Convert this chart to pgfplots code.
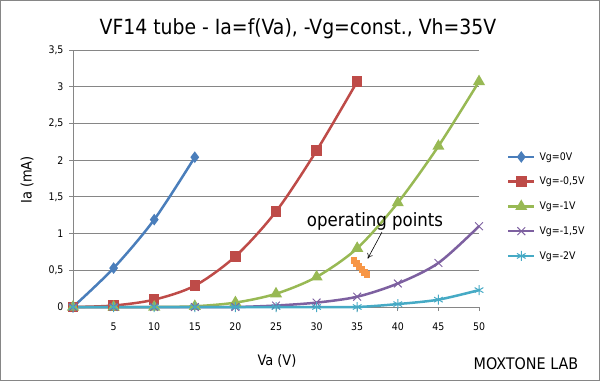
\documentclass[border=0pt]{standalone}
\usepackage{fontspec}
\setmainfont{DejaVu Sans Condensed}
\usepackage{pgfplots}
\pgfplotsset{compat=1.18}
\usetikzlibrary{arrows.meta}
\definecolor{c1}{HTML}{4A7EBB}
\definecolor{c2}{HTML}{BE4B48}
\definecolor{c3}{HTML}{98B954}
\definecolor{c4}{HTML}{7D60A0}
\definecolor{c5}{HTML}{46AAC5}
\definecolor{c6}{HTML}{F79646}
\definecolor{gridc}{HTML}{868686}
\begin{document}
\begin{tikzpicture}[x=1bp,y=1bp]
\useasboundingbox (0,0) rectangle (600,381);
\draw[gridc, line width=1bp] (0.5,0.5) rectangle (599.5,380.5);
\begin{axis}[
  at={(73bp,74bp)}, anchor=south west,
  scale only axis, width=406bp, height=257bp,
  xmin=0, xmax=50, ymin=0, ymax=3.5,
  axis x line*=bottom, axis y line*=left,
  axis line style={gridc, line width=0.8bp},
  xtick={5,10,...,50}, ytick={0,0.5,...,3.5},
  ymajorgrids, grid style={gridc, line width=0.8bp},
  tick align=outside, major tick length=4bp, tick style={gridc, line width=0.8bp},
  /pgf/number format/assume math mode=true,
  /pgf/number format/use comma,
  yticklabel style={/pgf/number format/fixed, font=\fontsize{10.5}{13}\selectfont, xshift=-2bp},
  xticklabel style={font=\fontsize{10.5}{13}\selectfont, yshift=-8bp},
  clip=false,
  legend style={at={(axis description cs:1.069,0.632)}, anchor=north west,
    draw=none, fill=none, inner sep=0pt, outer sep=0pt,
    font=\fontsize{10.5}{12}\selectfont,
    nodes={inner sep=0pt, minimum height=24.75bp, anchor=west},
    column sep=4bp},
  legend cell align=left,
  legend image code/.code={\draw[mark repeat=2,mark phase=2] plot coordinates {(0bp,0bp) (13bp,0bp) (26bp,0bp)};},
  every axis plot/.append style={line width=2.5bp, smooth, tension=0.5},
]
\addplot[c1, mark=diamond*, mark size=3.8bp, mark options={solid}] coordinates {(0,0) (5,0.53) (10,1.19) (15,2.04)};
\addlegendentry{Vg=0V}
\addplot[c2, mark=square*, mark size=4bp] coordinates {(0,0) (5,0.02) (10,0.1) (15,0.29) (20,0.69) (25,1.30) (30,2.13) (35,3.07)};
\addlegendentry{Vg=-0,5V}
\addplot[c3, mark=triangle*, mark size=4.5bp] coordinates {(0,0) (5,0) (10,0) (15,0.01) (20,0.06) (25,0.18) (30,0.41) (35,0.80) (40,1.42) (45,2.19) (50,3.07)};
\addlegendentry{Vg=-1V}
\addplot[c4, mark=x, mark size=5.5bp, mark options={line width=1bp}] coordinates {(0,0) (5,0) (10,0) (15,0) (20,0) (25,0.02) (30,0.06) (35,0.14) (40,0.32) (45,0.60) (50,1.10)};
\addlegendentry{Vg=-1,5V}
\addplot[c5, mark=asterisk, mark size=5bp, mark options={line width=1bp}] coordinates {(0,0) (5,0) (10,0) (15,0) (20,0) (25,0) (30,0) (35,0) (40,0.04) (45,0.10) (50,0.23)};
\addlegendentry{Vg=-2V}
\addplot[forget plot, only marks, c6, mark=square*, mark size=2bp] coordinates {(34.6,0.63) (34.9,0.59) (35.25,0.55) (35.6,0.51) (35.9,0.47) (36.2,0.44)};
\node[font=\fontsize{18.5}{20}\selectfont, inner sep=0pt] at (axis cs:37.2,1.16) {operating points};
\draw[black, line width=0.6bp, -{To[length=5bp,width=6bp]}] (axis cs:38.05,1.02) -- (axis cs:36.3,0.66);
\end{axis}
\node[anchor=base, font=\fontsize{21}{24}\selectfont, inner sep=0pt] at (298,347) {VF14 tube - Ia=f(Va), -Vg=const., Vh=35V};
\node[rotate=90, font=\fontsize{14.5}{16}\selectfont, inner sep=0pt] at (27,201) {Ia (mA)};
\node[anchor=base, font=\fontsize{14.5}{16}\selectfont, inner sep=0pt] at (277,16) {Va (V)};
\node[anchor=base, font=\fontsize{16}{18}\selectfont, inner sep=0pt] at (526,12) {MOXTONE LAB};
\end{tikzpicture}
\end{document}
